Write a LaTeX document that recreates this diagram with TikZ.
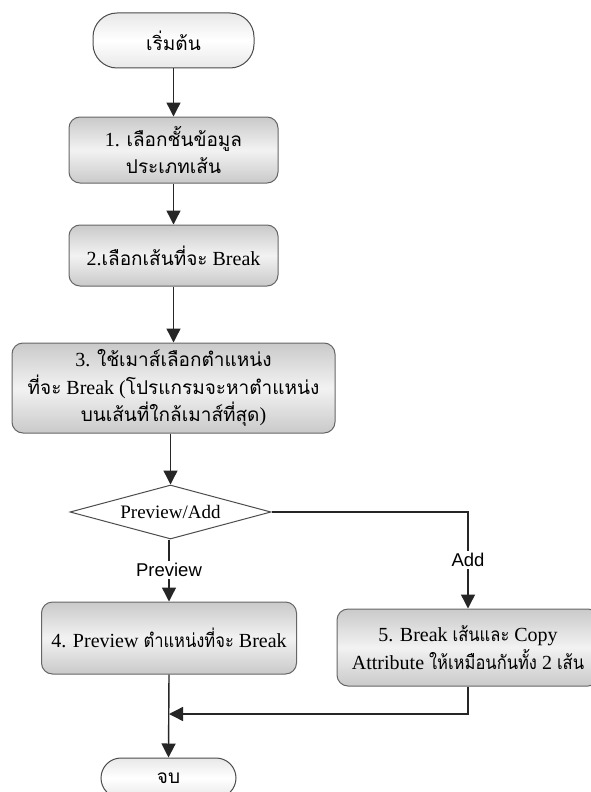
\documentclass[tikz,border=0pt]{standalone}
\usepackage{fontspec}
\setmainfont{Liberation Serif}
\newfontfamily\thaifont[Script=Thai,Scale=0.95]{Loma}
\newfontfamily\thainarrow[Script=Thai,Scale=0.95,FakeStretch=0.87]{Loma}
\newfontfamily\labelfont{Liberation Sans}
\newcommand{\tx}[1]{{\thaifont #1}}
\newcommand{\tn}[1]{{\thainarrow #1}}
\usetikzlibrary{arrows.meta,shapes.geometric}

\tikzset{
  flowline/.style={draw=black!85, line width=1.4pt},
  arrowline/.style={flowline, -{Triangle[length=14pt,width=14pt]}},
  stepbox/.style={draw=black!60, line width=1pt, rounded corners=11pt,
    top color=gray!42, bottom color=gray!42, middle color=gray!10,
    align=center, font=\fontsize{20}{27.5}\selectfont, inner sep=0pt},
  terminal/.style={draw=black!70, line width=1pt, rounded corners=24pt,
    top color=gray!18, bottom color=gray!18, middle color=white,
    font=\fontsize{20}{27}\selectfont, inner sep=0pt},
  decision/.style={diamond, shape aspect=3.72, draw=black!70, line width=1pt, fill=white,
    font=\fontsize{19}{22}\selectfont, inner sep=0pt},
  branchlabel/.style={fill=white, font=\labelfont\fontsize{18.5}{20}\selectfont, inner sep=2pt}
}

\begin{document}
\begin{tikzpicture}[x=1pt,y=-1pt]
  \clip (0,0) rectangle (591,792);
  \fill[white] (0,0) rectangle (591,792);

  % process steps
  \node[terminal, minimum width=161pt, minimum height=55pt] (start) at (173.5,40.5) {\tx{เริ่มต้น}};
  \node[stepbox, minimum width=209pt, minimum height=66pt] (s1) at (173.5,150) {1. \tx{เลือกชั้นข้อมูล}\\\tx{ประเภทเส้น}};
  \node[stepbox, minimum width=209pt, minimum height=61pt] (s2) at (173.5,255.5) {2.\tx{เลือกเส้นที่จะ} Break};
  \node[stepbox, minimum width=323pt, minimum height=90pt] (s3) at (173.5,388) {3. \tx{ใช้เมาส์เลือกตำแหน่ง}\\\tx{ที่จะ} Break (\tx{โปรแกรมจะหาตำแหน่ง}\\\tx{บนเส้นที่ใกล้เมาส์ที่สุด})};
  \node[decision, minimum width=201pt, minimum height=54pt] (dec) at (170.5,512) {Preview/Add};
  \node[stepbox, minimum width=255pt, minimum height=72pt] (s4) at (169,638) {4. Preview \tn{ตำแหน่งที่จะ} Break};
  \node[stepbox, minimum width=262pt, minimum height=77pt] (s5) at (468,647.5) {5. Break \tn{เส้นและ} Copy\\Attribute \tn{ให้เหมือนกันทั้ง} 2 \tn{เส้น}};
  \node[terminal, rounded corners=20pt, minimum width=135pt, minimum height=40pt] (stop) at (168.5,778) {\tx{จบ}};

  % branch labels
  \node[branchlabel] (lpre) at (169,570) {Preview};
  \node[branchlabel] (ladd) at (468,560) {Add};
  \coordinate (turn) at (468,512);
  \coordinate (back) at (468,714);
  \coordinate (join) at (169,714);

  % connectors
  \draw[arrowline] (start) -- (s1);
  \draw[arrowline] (s1) -- (s2);
  \draw[arrowline] (s2) -- (s3);
  \draw[arrowline] (s3.south -| dec.north) -- (dec.north);
  \draw[flowline] (dec.south -| lpre) -- (lpre.north);
  \draw[arrowline] (lpre.south) -- (s4.north);
  \draw[flowline] (dec.east) -- (turn) -- (ladd.north);
  \draw[arrowline] (ladd.south) -- (s5.north);
  \draw[arrowline] (s4.south) -- (stop.north);
  \draw[arrowline] (s5.south) -- (back) -- (join);
\end{tikzpicture}
\end{document}
